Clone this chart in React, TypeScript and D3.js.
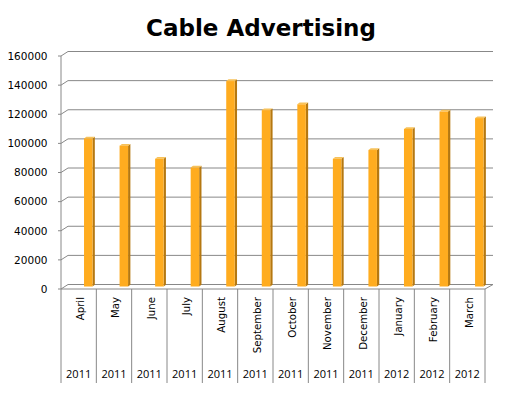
import React from "react";
import * as d3 from "d3";

const months = ["April", "May", "June", "July", "August", "September", "October", "November", "December", "January", "February", "March"];
const years = ["2011", "2011", "2011", "2011", "2011", "2011", "2011", "2011", "2011", "2012", "2012", "2012"];
const values = [102000, 97000, 88000, 82000, 141500, 121500, 125500, 88000, 94000, 108500, 120500, 116000];
const yTicks = [0, 20000, 40000, 60000, 80000, 100000, 120000, 140000, 160000];
const title = "Cable Advertising";

const W = 515;
const H = 393;
const DX = 7;
const DY = 4.5;

export default function App() {
  // front plane scale
  const yFront = d3.scaleLinear().domain([0, 160000]).range([289, 56]);
  const yBack = (v: number) => yFront(v) - DY;
  const yBar = d3.scaleLinear().domain([0, 160000]).range([286.5, 54.2]);

  const xCat = d3.scaleBand<string>().domain(months).range([61, 485]).padding(0);
  const xBar = d3.scaleBand<string>().domain(months).range([70.5, 497.1]).padding(0);
  const barW = 8.5;
  const sideW = 2.3;
  const sideH = 1.7;

  const left = 61;
  const right = 485;
  const grid = "#888888";

  return (
    <svg width={W} height={H} style={{ position: "absolute", left: 0, top: 0, background: "#fff" }}>
      <text x={261} y={35.5} textAnchor="middle" fontFamily="DejaVu Sans" fontWeight="bold" fontSize={23} fill="#000">
        {title}
      </text>
      {/* gridlines */}
      {yTicks.map((t) => (
        <g key={t}>
          <polyline
            points={`${left - 3},${yFront(t)} ${left},${yFront(t)} ${left + DX},${yBack(t)} ${right + DX + 1},${yBack(t)}`}
            fill="none"
            stroke={grid}
            strokeWidth={1}
          />
          <text x={47.5} y={yFront(t)} dy="0.36em" textAnchor="end" fontFamily="DejaVu Sans" fontSize={10.5} fill="#000">
            {t}
          </text>
        </g>
      ))}
      {/* floor */}
      <polyline
        points={`${left},${yFront(0)} ${right},${yFront(0)} ${right + DX + 1},${yBack(0)}`}
        fill="none"
        stroke={grid}
        strokeWidth={1}
      />
      <line x1={left} x2={left} y1={yFront(160000)} y2={yFront(0)} stroke={grid} strokeWidth={1} />
      {/* bars */}
      {values.map((v, i) => {
        const m = months[i];
        const cx = (xBar(m) as number) + xBar.bandwidth() / 2;
        const x0 = cx - barW / 2;
        const x1 = x0 + barW;
        const yt = yBar(v);
        const yb = yBar(0);
        return (
          <g key={m}>
            <polygon
              points={`${x1},${yb} ${x1},${yt} ${x1 + sideW},${yt - sideH} ${x1 + sideW},${yb - sideH}`}
              fill="#b57811"
            />
            <polygon
              points={`${x0},${yt} ${x0 + sideW},${yt - sideH} ${x1 + sideW},${yt - sideH} ${x1},${yt}`}
              fill="#f7c25a"
            />
            <rect x={x0} y={yt} width={barW} height={yb - yt} fill="#ffac1f" />
          </g>
        );
      })}
      {/* category axis */}
      {d3.range(months.length + 1).map((i) => {
        const x = i < months.length ? (xCat(months[i]) as number) : right;
        return <line key={i} x1={x} x2={x} y1={yFront(0)} y2={383} stroke={grid} strokeWidth={1} />;
      })}
      {months.map((m, i) => {
        const cx = (xCat(m) as number) + xCat.bandwidth() / 2 + 1.5;
        return (
          <g key={m}>
            <text
              transform={`translate(${cx},${297}) rotate(-90)`}
              textAnchor="end"
              dy="0.36em"
              fontFamily="DejaVu Sans"
              fontSize={10.2}
              fill="#000"
            >
              {m}
            </text>
            <text x={cx - 1.5} y={377.5} textAnchor="middle" fontFamily="Open Sans" fontSize={11} fill="#000">
              {years[i]}
            </text>
          </g>
        );
      })}
    </svg>
  );
}
